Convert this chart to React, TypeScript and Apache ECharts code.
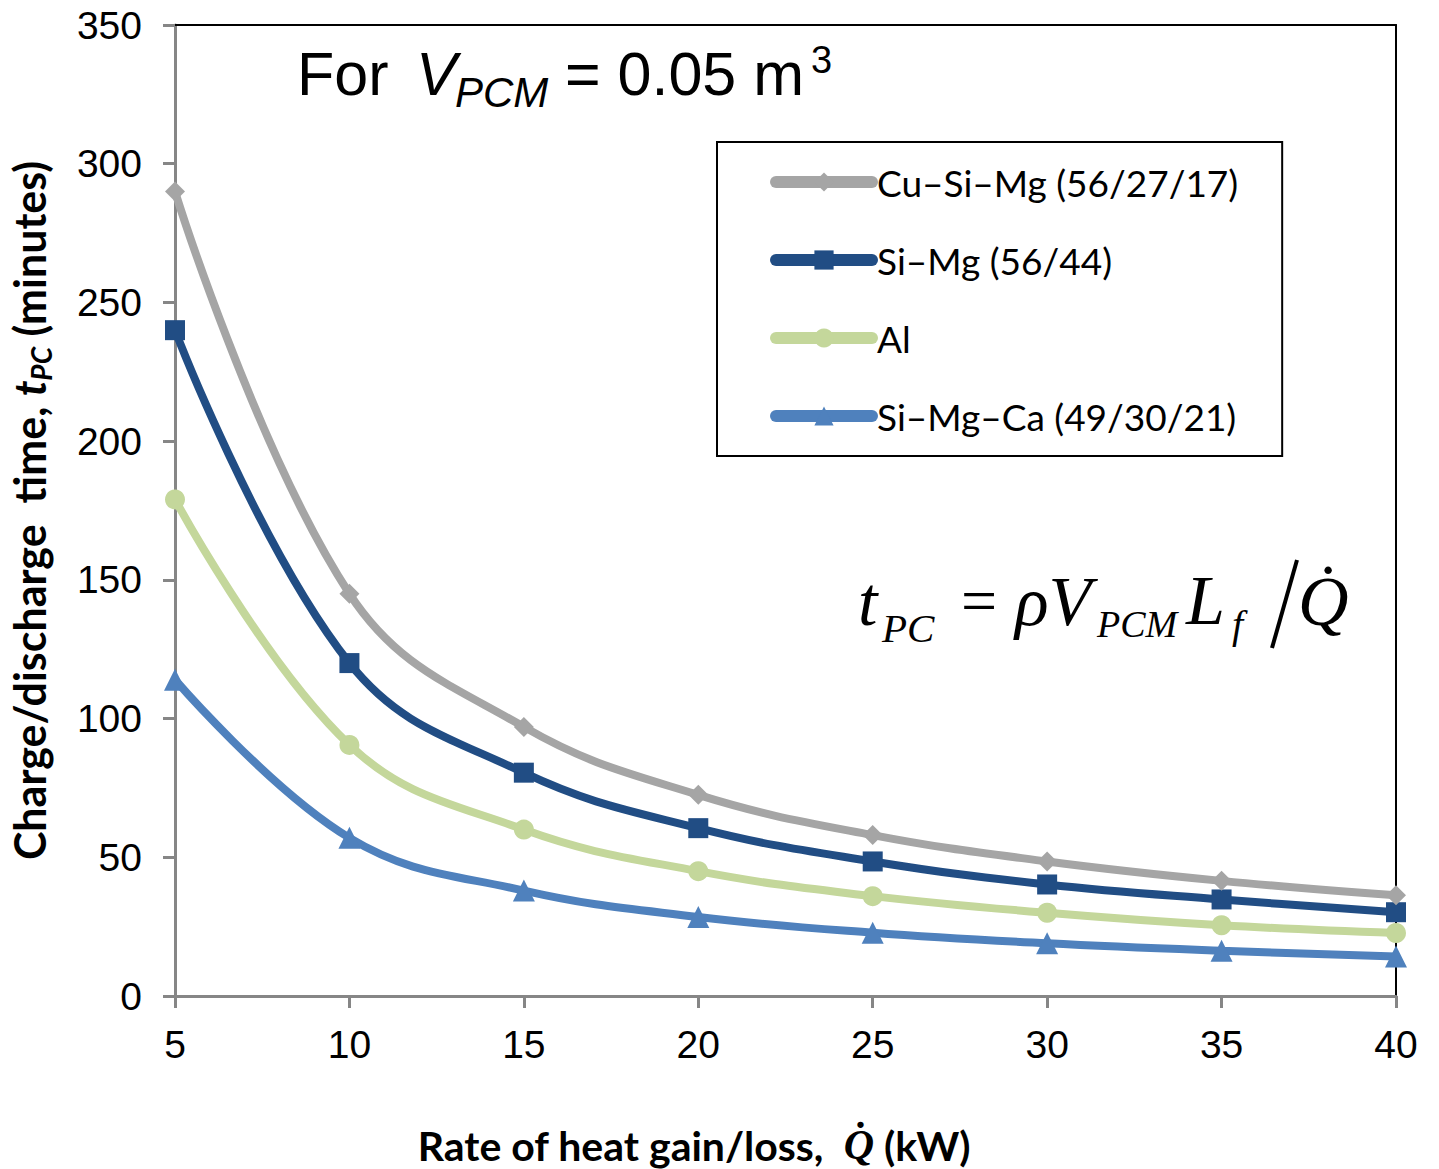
import React, { useEffect, useRef } from "react";
import * as echarts from "echarts";

const heatRates = [5, 10, 15, 20, 25, 30, 35, 40];
const seriesNames = ["Cu–Si–Mg (56/27/17)", "Si–Mg (56/44)", "Al", "Si–Mg–Ca (49/30/21)"];
const cuSiMg = [290, 145, 97, 72.5, 58, 48.5, 41.5, 36.3];
const siMg = [240, 120, 80.5, 60.5, 48.5, 40.2, 34.8, 30.2];
const al = [179, 90.5, 60, 45, 36, 30, 25.5, 22.7];
const siMgCa = [114, 57, 38, 28.5, 22.8, 19, 16.3, 14.2];
const seriesColors = ["#A5A5A5", "#214D84", "#C4D79B", "#4F81BD"];
const seriesSymbols = ["diamond", "rect", "circle", "triangle"];
const seriesSymbolSizes = [20, 20, 20, 22];

const serif = "'Liberation Serif', 'DejaVu Serif', serif";
const arial = "'Liberation Sans', Arial, sans-serif";
const calibri = "Lato, 'Open Sans', sans-serif";

export default function App() {
  const ref = useRef<HTMLDivElement>(null);
  useEffect(() => {
    if (!ref.current) return;
    const chart = echarts.init(ref.current, undefined, { renderer: "svg" });
    const allValues = [cuSiMg, siMg, al, siMgCa];
    const txt = (text: string, x: number, y: number, size: number, family: string, italic = false) => ({
      type: "text",
      x,
      y,
      style: {
        text,
        fontSize: size,
        fontFamily: family,
        fontStyle: italic ? "italic" : "normal",
        fill: "#000",
        align: "left",
        verticalAlign: "middle",
      },
    });
    chart.setOption({
      animation: false,
      backgroundColor: "#fff",
      grid: { left: 175, right: 43, top: 25, bottom: 173, containLabel: false, outerBoundsMode: "none" },
      legend: {
        show: true,
        orient: "vertical",
        left: 717,
        top: 142,
        padding: [20, 44, 20, 53],
        itemGap: 38,
        itemWidth: 96,
        itemHeight: 24,
        borderColor: "#000",
        borderWidth: 2,
        selectedMode: false,
        lineStyle: { width: 12, cap: "round" },
        textStyle: { fontFamily: calibri, fontSize: 37, color: "#000", lineHeight: 40 },
        data: seriesNames,
      },
      xAxis: [
        {
          type: "value",
          min: 5,
          max: 40,
          interval: 5,
          axisLine: { show: true, onZero: false, lineStyle: { color: "#868686", width: 3 } },
          axisTick: { show: true, inside: false, length: 12, lineStyle: { color: "#868686", width: 3 } },
          axisLabel: { color: "#000", fontSize: 39, fontFamily: arial, margin: 29 },
          splitLine: { show: false },
        },
        {
          type: "value",
          position: "top",
          min: 5,
          max: 40,
          interval: 5,
          axisLine: { show: true, onZero: false, lineStyle: { color: "#000", width: 2 } },
          axisTick: { show: false },
          axisLabel: { show: false },
          splitLine: { show: false },
        },
      ],
      yAxis: [
        {
          type: "value",
          min: 0,
          max: 350,
          interval: 50,
          axisLine: { show: true, onZero: false, lineStyle: { color: "#868686", width: 3 } },
          axisTick: { show: true, inside: false, length: 12, lineStyle: { color: "#868686", width: 3 } },
          axisLabel: { color: "#000", fontSize: 39, fontFamily: arial, margin: 33 },
          splitLine: { show: false },
          name: "{b|Charge/discharge  time, }{t|t}{s|PC}{b| (minutes)}",
          nameLocation: "middle",
          nameGap: 120,
          nameTextStyle: {
            rich: {
              b: { fontFamily: calibri, fontWeight: "bold", fontSize: 43, color: "#000", lineHeight: 52 },
              t: { fontFamily: calibri, fontWeight: "bold", fontStyle: "italic", fontSize: 43, color: "#000", lineHeight: 52 },
              s: { fontFamily: calibri, fontWeight: "bold", fontStyle: "italic", fontSize: 28, color: "#000", lineHeight: 30, verticalAlign: "bottom" },
            },
          },
        },
        {
          type: "value",
          position: "right",
          min: 0,
          max: 350,
          interval: 50,
          axisLine: { show: true, onZero: false, lineStyle: { color: "#000", width: 2 } },
          axisTick: { show: false },
          axisLabel: { show: false },
          splitLine: { show: false },
        },
      ],
      series: seriesNames.map((name, i) => ({
        name,
        type: "line",
        smooth: 0.4,
        symbol: seriesSymbols[i],
        symbolSize: seriesSymbolSizes[i],
        color: seriesColors[i],
        lineStyle: { width: 8, color: seriesColors[i] },
        itemStyle: { color: seriesColors[i] },
        z: 10 - i,
        data: heatRates.map((x, j) => [x, allValues[i][j]]),
      })),
      graphic: [
        txt("For", 297, 74, 61, arial),
        txt("V", 416, 74, 61, arial, true),
        txt("PCM", 455, 92, 42, arial, true),
        txt("= 0.05 m", 565, 74, 61, arial),
        txt("3", 811, 60, 38, arial),
        txt("t", 858, 601, 70, serif, true),
        txt("PC", 882, 628, 41, serif, true),
        txt("=", 961, 600, 64, serif),
        txt("ρV", 1015, 601, 70, serif, true),
        txt("PCM", 1097, 624, 38, serif, true),
        txt("L", 1186, 600, 70, serif, true),
        txt("f", 1232, 624, 40, serif, true),
        { type: "line", shape: { x1: 1297, y1: 560, x2: 1272, y2: 648 }, style: { stroke: "#000", lineWidth: 4 } },
        txt("Q\u0307", 1298, 601, 70, serif, true),
        {
          type: "text",
          x: 694,
          y: 1145,
          style: {
            text: "{b|Rate of heat gain/loss,  }{q|Q\u0307}{b| (kW)}",
            align: "center",
            verticalAlign: "middle",
            rich: {
              b: { fontFamily: calibri, fontWeight: "bold", fontSize: 41, fill: "#000", lineHeight: 50 },
              q: { fontFamily: serif, fontWeight: "bold", fontStyle: "italic", fontSize: 42, fill: "#000", lineHeight: 50 },
            },
          },
        },
      ],
    });
    return () => chart.dispose();
  }, []);
  return <div ref={ref} style={{ position: "absolute", left: 0, top: 0, width: 1439, height: 1169 }} />;
}
